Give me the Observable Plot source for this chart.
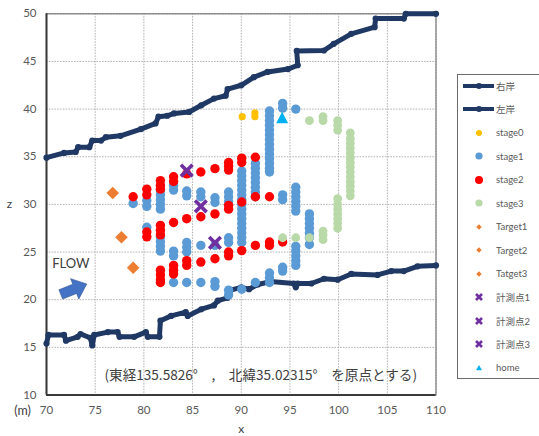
<!DOCTYPE html>
<html><head><meta charset="utf-8">
<script src="https://cdn.jsdelivr.net/npm/d3@7"></script>
<script src="https://cdn.jsdelivr.net/npm/@observablehq/plot@0.6"></script>
<style>
body{margin:0;background:#fff;}
#wrap{position:relative;width:539px;height:436px;overflow:hidden;background:#fff;}
#legend{position:absolute;left:457px;top:74px;width:110px;height:305px;border:1.3px solid #6b6b6b;box-sizing:border-box;font-family:Lato,"Noto Sans CJK JP",sans-serif;font-size:9.5px;color:#595959;background:#fff;}
.item{position:absolute;left:5px;height:16px;display:flex;align-items:center;white-space:nowrap;}
.item svg{display:block;flex:none;}
</style></head>
<body><div id="wrap"></div>
<script>
// ---- tick labels ----
const xTicks = [70, 75, 80, 85, 90, 95, 100, 105, 110];
const yTicks = [10, 15, 20, 25, 30, 35, 40, 45, 50];

// ---- banks [x, z] ----
const rightBank = [[70.0,34.9],[71.8,35.4],[73.0,35.5],[73.25,36.0],[74.4,36.0],[74.7,36.7],[75.6,36.7],[76.1,37.05],[77.6,37.2],[79.7,37.9],[81.2,38.5],[81.5,39.2],[82.4,39.3],[83.1,39.55],[84.65,39.7],[85.9,40.4],[87.2,41.1],[88.4,41.4],[88.6,42.1],[90.0,42.5],[91.3,43.35],[92.7,43.9],[94.8,44.2],[95.8,44.6],[95.7,46.1],[98.5,46.15],[99.5,46.85],[101.3,47.9],[103.7,48.6],[103.8,49.5],[106.7,49.5],[106.9,50.0],[110.0,50.0]];
const leftBank = [[70.0,15.4],[70.2,16.3],[71.8,16.3],[72.0,15.7],[73.2,16.1],[73.5,16.4],[74.5,16.0],[74.7,15.2],[74.9,16.3],[76.3,16.6],[77.3,16.6],[77.5,16.1],[79.0,16.1],[80.2,16.6],[80.4,16.1],[81.6,16.1],[81.7,17.8],[82.8,18.3],[84.3,18.7],[84.5,18.3],[85.9,19.0],[87.2,19.4],[87.6,19.9],[88.6,20.2],[88.9,21.0],[90.0,21.3],[90.8,21.1],[91.7,21.6],[93.0,21.9],[95.4,21.7],[95.6,21.3],[95.8,21.7],[97.2,21.7],[98.5,22.2],[99.9,22.1],[101.3,22.7],[104.0,22.6],[105.4,23.0],[106.7,23.0],[108.1,23.5],[110.0,23.6]];

// ---- stages [x, z] ----
const stage0 = [[90.1,39.2],[91.4,39.2],[91.4,39.6]];
const stage1 = [
 [78.9,30.1],
 [80.3,30.4],[80.3,29.8],[80.3,27.6],
 [81.7,31.5],[81.7,31.0],[81.7,30.5],[81.7,30.0],[81.7,29.5],[81.7,26.6],[81.7,26.1],[81.7,25.6],[81.7,25.1],
 [83.05,32.0],[83.05,31.5],[83.05,25.1],[83.05,24.6],[83.05,21.8],
 [84.4,31.4],[84.4,30.9],[84.4,26.0],[84.4,25.5],[84.4,25.0],[84.4,21.8],
 [85.85,31.3],[85.85,30.8],[85.85,25.7],[85.85,21.8],
 [87.3,30.7],[87.3,30.2],[87.3,25.7],[87.3,21.9],[87.3,21.4],
 [88.7,31.3],[88.7,30.8],[88.7,30.3],[88.7,26.5],[88.7,26.0],[88.7,21.0],[88.7,20.5],
 [90.05,33.5],[90.05,33.0],[90.05,32.5],[90.05,32.0],[90.05,31.5],[90.05,31.0],[90.05,30.5],[90.05,30.0],[90.05,29.5],[90.05,29.0],[90.05,28.5],[90.05,28.0],[90.05,27.5],[90.05,27.0],[90.05,26.5],[90.05,26.0],[90.05,21.1],
 [91.45,34.3],[91.45,33.8],[91.45,33.3],[91.45,32.8],[91.45,32.3],[91.45,31.8],[91.45,31.3],[91.45,30.8],[91.45,21.8],
 [92.9,39.8],[92.9,39.3],[92.9,38.8],[92.9,38.3],[92.9,37.8],[92.9,37.3],[92.9,36.8],[92.9,36.3],[92.9,35.8],[92.9,35.3],[92.9,34.8],[92.9,34.3],[92.9,33.8],[92.9,33.4],[92.9,22.8],[92.9,22.3],[92.9,21.8],
 [94.25,40.6],[94.25,40.1],[94.25,31.0],[94.25,30.5],[94.25,23.4],[94.25,23.0],
 [95.6,40.0],[95.6,31.8],[95.6,31.3],[95.6,30.8],[95.6,30.3],[95.6,29.8],[95.6,29.3],[95.6,25.6],[95.6,25.1],[95.6,24.6],[95.6,24.1],[95.6,23.6],
 [97.0,29.0],[97.0,28.5],[97.0,28.0],[97.0,27.5],[97.0,27.0],[97.0,26.5],[97.0,25.8]
];
const stage2 = [
 [78.9,30.8],[80.3,31.6],[80.3,31.0],[81.7,32.5],[81.7,32.0],[81.7,31.6],[83.05,32.9],[83.05,32.4],[84.4,33.2],[85.85,33.4],[87.3,33.75],[88.7,34.4],[88.7,34.0],[88.7,33.6],[90.05,34.85],[90.05,34.4],[91.45,34.95],
 [80.3,27.1],[80.3,26.6],[81.7,27.8],[81.7,27.3],[81.7,26.8],[83.05,28.1],[84.4,28.5],[85.85,28.7],[87.3,29.0],[88.7,29.9],[88.7,29.5],[90.05,30.25],[91.45,30.8],[92.9,30.8],
 [81.7,23.1],[81.7,22.6],[81.7,22.1],[81.7,21.8],[83.05,23.6],[83.05,23.1],[83.05,22.7],[84.4,24.1],[84.4,23.6],[85.85,23.95],[87.3,24.3],[88.7,25.0],[88.7,24.6],[90.05,25.15],[91.45,25.7],[92.9,26.05],[92.9,25.7],[94.25,26.05]
];
const stage3 = [[94.25,26.5],[95.6,26.5],[97.0,26.5],[98.4,26.3],[98.4,26.8],[98.4,27.2],[99.9,27.5],[99.9,28.0],[99.9,28.5],[99.9,29.0],[99.9,29.5],[99.9,30.0],[99.9,30.6],[101.2,30.9],[101.2,31.4],[101.2,31.9],[101.2,32.4],[101.2,32.9],[101.2,33.4],[101.2,33.9],[101.2,34.4],[101.2,34.9],[101.2,35.4],[101.2,35.9],[101.2,36.4],[101.2,36.9],[101.2,37.5],[99.9,37.8],[99.9,38.3],[99.9,38.8],[98.4,38.8],[98.4,39.2],[97.0,38.8]];

// ---- single points ----
const targets = [[76.8,31.2],[77.7,26.55],[78.9,23.35]];
const measurePoints = [[84.4,33.55],[85.85,29.8],[87.3,25.97]];
const home = [[94.2,39.1]];

// ---- annotations ----
const flowLabel = [{x:72.5, z:23.8, text:"FLOW"}];
const flowArrow = [{x:72.8, z:21.1}];
const noteText = [{x:92.0, z:12.05, text:"(東経135.5826°　,　北緯35.02315°　を原点とする)"}];

// ---- legend ----
const legendLabels = ["右岸","左岸","stage0","stage1","stage2","stage3","Target1","Target2","Tatget3","計測点1","計測点2","計測点3","home"];

const C = {bank:"#1f3864", s0:"#ffc000", s1:"#5b9bd5", s2:"#ff0000", s3:"#b9d9a9", tgt:"#ed7d31", mp:"#7030a0", home:"#00b0f0", arrow:"#4472c4"};
const legendKinds = [["line",C.bank],["line",C.bank],["dot",C.s0,3],["dot",C.s1,3.6],["dot",C.s2,4],["dot",C.s3,3.6],["dia",C.tgt],["dia",C.tgt],["dia",C.tgt],["x",C.mp],["x",C.mp],["x",C.mp],["tri",C.home]];

function poly(pts){return {draw(ctx){ctx.moveTo(pts[0][0],pts[0][1]);for(let i=1;i<pts.length;i++)ctx.lineTo(pts[i][0],pts[i][1]);ctx.closePath();}};}
function rot(pts,deg){const a=deg*Math.PI/180,c=Math.cos(a),s=Math.sin(a);return pts.map(([x,y])=>[x*c-y*s,x*s+y*c]);}
const arrowSym = poly(rot([[-14,-5],[1,-5],[1,-11],[14,0],[1,11],[1,5],[-14,5]],-22));
const diamondSym = poly([[0,-6.3],[6.3,0],[0,6.3],[-6.3,0]]);
const triSym = poly([[0,-6],[6,5.5],[-6,5.5]]);
const timesSym = {draw(ctx){ctx.moveTo(-5.8,-5.8);ctx.lineTo(5.8,5.8);ctx.moveTo(-5.8,5.8);ctx.lineTo(5.8,-5.8);}};

const X = d=>d[0], Z = d=>d[1];
const grid = {stroke:"#b3b3b3", strokeWidth:1, strokeDasharray:"1.6,1.2"};

const chart = Plot.plot({
  width:539, height:436,
  marginLeft:46, marginRight:103.5, marginTop:13.3, marginBottom:41.5,
  style:{fontFamily:"Lato, 'Noto Sans CJK JP', sans-serif", fontSize:"11.5px", color:"#595959", background:"white", overflow:"visible"},
  x:{domain:[70,110], ticks:xTicks, tickSize:0, tickPadding:11, label:null, tickFormat:d=>String(d)},
  y:{domain:[10,50], ticks:yTicks, tickSize:0, tickPadding:10, label:null, tickFormat:d=>String(d)},
  marks:[
    Plot.ruleX(xTicks, grid),
    Plot.ruleY(yTicks, grid),
    Plot.frame({stroke:"#7a7a7a", strokeWidth:1.2}),
    Plot.ruleX([70], {stroke:"#3a3a3a", strokeWidth:2}),
    Plot.ruleY([10], {stroke:"#3a3a3a", strokeWidth:2}),
    Plot.line(rightBank, {x:X, y:Z, stroke:C.bank, strokeWidth:5, strokeLinejoin:"round"}),
    Plot.dot(rightBank, {x:X, y:Z, r:3.1, fill:C.bank}),
    Plot.line(leftBank, {x:X, y:Z, stroke:C.bank, strokeWidth:5, strokeLinejoin:"round"}),
    Plot.dot(leftBank, {x:X, y:Z, r:3.1, fill:C.bank}),
    Plot.dot(stage0, {x:X, y:Z, r:3.6, fill:C.s0}),
    Plot.dot(stage1, {x:X, y:Z, r:4.7, fill:C.s1}),
    Plot.dot(stage2, {x:X, y:Z, r:4.7, fill:C.s2}),
    Plot.dot(stage3, {x:X, y:Z, r:4.4, fill:C.s3}),
    Plot.dot(targets, {x:X, y:Z, symbol:diamondSym, fill:C.tgt, stroke:"none"}),
    Plot.dot(measurePoints, {x:X, y:Z, symbol:timesSym, fill:"none", stroke:C.mp, strokeWidth:3.6}),
    Plot.dot(home, {x:X, y:Z, symbol:triSym, fill:C.home, stroke:"none"}),
    Plot.dot(flowArrow, {x:"x", y:"z", symbol:arrowSym, fill:C.arrow, stroke:"#2f528f", strokeWidth:0.6}),
    Plot.text(flowLabel, {x:"x", y:"z", text:"text", fill:"#404040", fontSize:13, fontFamily:"Lato, sans-serif"}),
    Plot.text(noteText, {x:"x", y:"z", text:"text", fill:"#404040", fontSize:13.6, fontFamily:"'Noto Sans CJK JP', sans-serif"}),
    Plot.text(["z"], {frameAnchor:"left", y:[30], dx:-37, fill:"#404040", fontSize:12, textAnchor:"middle"}),
    Plot.text(["(m)"], {x:[70], y:[10], dx:-24, dy:15.5, fill:"#404040", fontSize:12.5, textAnchor:"middle"}),
    Plot.text(["x"], {x:[90], frameAnchor:"bottom", dy:37.5, fill:"#404040", fontSize:12, textAnchor:"middle"})
  ]
});

const wrap = document.getElementById("wrap");
wrap.append(chart);

const legend = document.createElement("div");
legend.id = "legend";
legendLabels.forEach((lab,i)=>{
  const cy = 11 + i*23.48;
  const item = document.createElement("div");
  item.className = "item";
  item.style.top = (cy-8)+"px";
  const [kind,color,r] = legendKinds[i];
  const s = d3.create("svg").attr("width",33).attr("height",16);
  if(kind==="line"){
    s.append("line").attr("x1",0).attr("x2",31).attr("y1",8).attr("y2",8).attr("stroke",color).attr("stroke-width",4);
    s.append("circle").attr("cx",16).attr("cy",8).attr("r",3).attr("fill",color);
  } else if(kind==="dot"){
    s.append("circle").attr("cx",16).attr("cy",8).attr("r",r).attr("fill",color);
  } else if(kind==="dia"){
    s.append("path").attr("d","M16,5.3L18.7,8L16,10.7L13.3,8Z").attr("fill",color);
  } else if(kind==="x"){
    s.append("path").attr("d","M13,5L19,11M13,11L19,5").attr("stroke",color).attr("stroke-width",2.6);
  } else {
    s.append("path").attr("d","M16,5L19,10.3L13,10.3Z").attr("fill",color);
  }
  item.append(s.node());
  const sp = document.createElement("span");
  sp.textContent = lab;
  item.append(sp);
  legend.append(item);
});
wrap.append(legend);
</script>
</body></html>
